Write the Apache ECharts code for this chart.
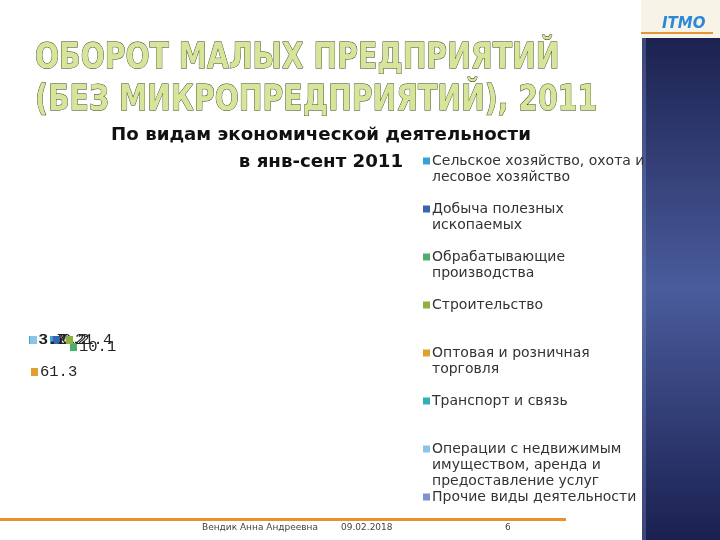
<!DOCTYPE html>
<html><head><meta charset="utf-8">
<script src="https://cdn.jsdelivr.net/npm/echarts@6/dist/echarts.min.js"></script>
<style>html,body{margin:0;padding:0;background:#fff}#c{width:720px;height:540px}</style>
</head><body><div id="c"></div>
<script>
const categories = [
  'Сельское хозяйство, охота и\nлесовое хозяйство',
  'Добыча полезных\nископаемых',
  'Обрабатывающие\nпроизводства',
  'Строительство',
  'Оптовая и розничная\nторговля',
  'Транспорт и связь',
  'Операции с недвижимым\nимуществом, аренда и\nпредоставление услуг',
  'Прочие виды деятельности'
];
const values = [0.2, 0.2, 10.1, 21.4, 61.3, 3.7, 3.2, 0.0];
const colors = ['#3aa0d8', '#3a64b0', '#4caf6a', '#8db040', '#e0a030', '#30b0b8', '#8cc4e8', '#8090d0'];
const labelX = [50, 53, 70, 66, 31, 29, 30, 30];
const labelY = [340, 340, 347, 340, 372, 340, 340, 340];

const chart = echarts.init(document.getElementById('c'));
const rich = {t: {fontFamily: 'DejaVu Sans', fontSize: 14, lineHeight: 16, color: '#333'}, s: {width: 9, height: 16}};
colors.forEach((c, i) => { rich['m' + i] = {width: 7, height: 7, backgroundColor: c}; rich['g' + i] = {width: 2}; });
const lrich = {v: {fontFamily: 'Liberation Mono', fontSize: 15.5, color: '#222', padding: [0,0,0,2]}};
colors.forEach((c, i) => { lrich['m' + i] = {width: 7, height: 8, backgroundColor: c}; });

chart.setOption({
  animation: false,
  color: colors,
  title: {
    text: 'По видам экономической деятельности\nв янв-сент 2011',
    left: 316, top: 117, textAlign: 'center',
    textStyle: {fontFamily: 'DejaVu Sans', fontWeight: 'bold', fontSize: 18.2, lineHeight: 27, color: '#111'}
  },
  legend: {
    orient: 'vertical', left: 418, top: 153, padding: 0, itemGap: 0,
    itemWidth: 0, itemHeight: 0, icon: 'rect', selectedMode: false,
    data: categories,
    formatter: function (name) {
      const i = categories.indexOf(name);
      const lines = name.split('\n');
      let out = lines.map((l, k) => (k === 0 ? '{m' + i + '|}{g' + i + '|}' : '{s|}') + '{t|' + l + '}');
      while (out.length < 3 && i < categories.length - 1) out.push('{t| }');
      return out.join('\n');
    },
    textStyle: {rich: rich, lineHeight: 16}
  },
  series: [{
    type: 'pie', center: [30, 345], radius: [0, 0],
    startAngle: 90, silent: true, avoidLabelOverlap: false,
    data: categories.map((n, i) => ({name: n, value: values[i]})),
    label: {
      show: true, position: 'inside',
      formatter: p => p.value === 0 ? '' : '{m' + p.dataIndex + '|}{v|' + p.value.toFixed(1) + '}',
      rich: lrich
    },
    labelLine: {show: false},
    labelLayout: p => ({x: labelX[p.dataIndex], y: labelY[p.dataIndex], align: 'left', verticalAlign: 'middle', hideOverlap: false})
  }],
  graphic: [
    {type: 'rect', shape: {x: 642, y: 38, width: 78, height: 502}, style: {fill: new echarts.graphic.LinearGradient(0, 0, 0, 1, [{offset: 0, color: '#1c2250'}, {offset: 0.5, color: '#4a5c9c'}, {offset: 1, color: '#1a2050'}])}, z: 1},
    {type: 'rect', shape: {x: 642, y: 38, width: 4, height: 502}, style: {fill: 'rgba(120,140,200,0.35)'}, z: 2},
    {type: 'rect', shape: {x: 641, y: 0, width: 79, height: 38}, style: {fill: '#f7f3e6'}, z: 1},
    {type: 'rect', shape: {x: 641, y: 32, width: 72, height: 2}, style: {fill: '#e0963a'}, z: 2},
    {type: 'text', x: 662, y: 17, style: {text: 'ITMO', fill: '#2a8ad8', font: 'italic bold 15px "DejaVu Sans"'}, z: 3},
    {type: 'rect', shape: {x: 0, y: 518, width: 566, height: 3}, style: {fill: '#e8902a'}, z: 1},
    {type: 'text', x: 202, y: 523, style: {text: 'Вендик Анна Андреевна', fill: '#444', font: '9px "DejaVu Sans"'}},
    {type: 'text', x: 341, y: 523, style: {text: '09.02.2018', fill: '#444', font: '9px "DejaVu Sans"'}},
    {type: 'text', x: 505, y: 523, style: {text: '6', fill: '#444', font: '9px "DejaVu Sans"'}},
    {type: 'text', x: 35, y: 37, scaleY: 1.15, style: {
      text: 'ОБОРОТ МАЛЫХ ПРЕДПРИЯТИЙ\n(БЕЗ МИКРОПРЕДПРИЯТИЙ), 2011',
      fontFamily: 'DejaVu Sans Condensed', fontWeight: 'bold', fontSize: 31.5, lineHeight: 37,
      fill: '#d6e59a', stroke: '#2c3a18', lineWidth: 0.8
    }}
  ]
});
</script></body></html>
